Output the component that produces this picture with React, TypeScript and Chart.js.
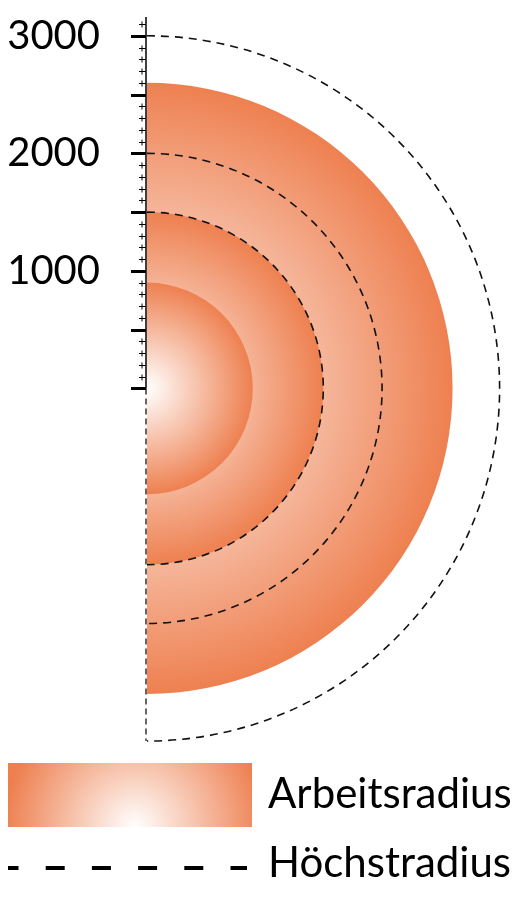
import { useEffect, useRef } from "react"
import { Chart, registerables, type ChartConfiguration, type Plugin } from "chart.js"

Chart.register(...registerables)

// radii in mm
const workRadius = [2600, 1500, 900] // Arbeitsradius (filled half discs)
const maxRadius = [3000, 2000, 1500] // Höchstradius (dashed arcs)
const yTickLabels = [1000, 2000, 3000]
const legendLabels = ["Arbeitsradius", "Höchstradius"]

const ORANGE = "#ee8050"
const FONT = "Lato, 'Open Sans', sans-serif"

const radiusPlugin: Plugin<"scatter"> = {
  id: "radiusPlugin",
  afterDraw(chart) {
    const ctx = chart.ctx
    const xs = chart.scales.x
    const ys = chart.scales.y
    const cx = xs.getPixelForValue(0)
    const cy = ys.getPixelForValue(0)
    const toPx = (r: number) => cy - ys.getPixelForValue(r)

    ctx.save()

    // filled half discs, largest first
    const filled = [...(chart.data.datasets[0].data as { x: number }[])].sort((a, b) => b.x - a.x)
    filled.forEach((p) => {
      const r = toPx(p.x)
      const g = ctx.createRadialGradient(cx, cy, 0, cx, cy, r)
      g.addColorStop(0, "#ffffff")
      g.addColorStop(1, ORANGE)
      ctx.beginPath()
      ctx.moveTo(cx, cy)
      ctx.arc(cx, cy, r, -Math.PI / 2, Math.PI / 2)
      ctx.closePath()
      ctx.fillStyle = g
      ctx.fill()
    })

    // dashed max radius arcs
    ctx.strokeStyle = "#111"
    ctx.lineWidth = 1.6
    ctx.setLineDash([8, 6])
    ;(chart.data.datasets[1].data as { x: number }[]).forEach((p) => {
      ctx.beginPath()
      ctx.arc(cx, cy, toPx(p.x), -Math.PI / 2, Math.PI / 2)
      ctx.stroke()
    })

    // axis: solid above zero, dashed below
    const ax = cx - 1
    ctx.setLineDash([])
    ctx.lineWidth = 1.5
    ctx.strokeStyle = "#000"
    ctx.beginPath()
    ctx.moveTo(ax, chart.chartArea.top)
    ctx.lineTo(ax, cy)
    ctx.stroke()
    ctx.lineWidth = 1.2
    ctx.setLineDash([6, 4])
    ctx.beginPath()
    ctx.moveTo(ax, cy)
    ctx.lineTo(ax, chart.chartArea.bottom)
    ctx.stroke()
    ctx.setLineDash([])

    // minor / major ticks
    for (let v = 0; v <= ys.max; v += 100) {
      const y = Math.round(ys.getPixelForValue(v)) + 0.5
      const major = v % 500 === 0
      ctx.lineWidth = major ? 3 : 1
      ctx.beginPath()
      ctx.moveTo(ax - (major ? 15 : 7), y)
      ctx.lineTo(ax, y)
      ctx.stroke()
      if (!major) {
        ctx.lineWidth = 1
        ctx.beginPath()
        ctx.moveTo(ax - 4, y - 3)
        ctx.lineTo(ax - 4, y + 3)
        ctx.stroke()
      }
    }

    // legend
    const lx = 8
    const g = ctx.createRadialGradient(135, 827, 0, 135, 827, 130)
    g.addColorStop(0, "#ffffff")
    g.addColorStop(1, ORANGE)
    ctx.fillStyle = g
    ctx.fillRect(lx, 763, 244, 64)

    ctx.strokeStyle = "#000"
    ctx.lineWidth = 4
    ctx.setLineDash([19, 27.2])
    ctx.lineDashOffset = 8.5
    ctx.beginPath()
    ctx.moveTo(lx, 868)
    ctx.lineTo(247, 868)
    ctx.stroke()
    ctx.setLineDash([])
    ctx.lineDashOffset = 0

    ctx.fillStyle = "#000"
    ctx.font = `42px ${FONT}`
    ctx.textAlign = "left"
    ctx.textBaseline = "alphabetic"
    ctx.fillText(legendLabels[0], 268, 808)
    ctx.fillText(legendLabels[1], 268, 877)

    ctx.restore()
  },
}

export default function App() {
  const chartRef = useRef<HTMLCanvasElement>(null)
  const chartInstance = useRef<Chart | null>(null)

  useEffect(() => {
    let cancelled = false

    const build = () => {
      if (cancelled || !chartRef.current) return
      const ctx = chartRef.current.getContext("2d")
      if (!ctx) return
      if (chartInstance.current) chartInstance.current.destroy()

      const config: ChartConfiguration<"scatter"> = {
        type: "scatter",
        data: {
          datasets: [
            {
              label: legendLabels[0],
              data: workRadius.map((r) => ({ x: r, y: 0 })),
              pointRadius: 0,
              pointHoverRadius: 0,
            },
            {
              label: legendLabels[1],
              data: maxRadius.map((r) => ({ x: r, y: 0 })),
              pointRadius: 0,
              pointHoverRadius: 0,
            },
          ],
        },
        options: {
          animation: false,
          responsive: true,
          maintainAspectRatio: false,
          events: [],
          layout: {
            padding: { top: 17, bottom: 159, left: 0, right: 0 },
          },
          plugins: {
            legend: { display: false },
            tooltip: { enabled: false },
          },
          scales: {
            x: {
              type: "linear",
              display: false,
              min: 0,
              max: 3256,
            },
            y: {
              type: "linear",
              min: -3000,
              max: 3160,
              border: { display: false },
              grid: { display: false, drawTicks: false },
              afterBuildTicks: (scale) => {
                scale.ticks = yTickLabels.map((v) => ({ value: v }))
              },
              afterFit: (scale) => {
                scale.width = 147
                scale.paddingTop = 0
                scale.paddingBottom = 0
              },
              ticks: {
                padding: 47,
                autoSkip: false,
                color: "#000",
                font: { family: FONT, size: 40 },
                callback: (v) => String(v),
              },
            },
          },
        },
        plugins: [radiusPlugin],
      }

      chartInstance.current = new Chart(ctx, config)
    }

    document.fonts.load(`40px Lato`).then(build, build)

    return () => {
      cancelled = true
      if (chartInstance.current) {
        chartInstance.current.destroy()
        chartInstance.current = null
      }
    }
  }, [])

  return (
    <div style={{ position: "fixed", left: 0, top: 0, width: 529, height: 900, background: "#fff" }}>
      <canvas ref={chartRef} />
    </div>
  )
}
